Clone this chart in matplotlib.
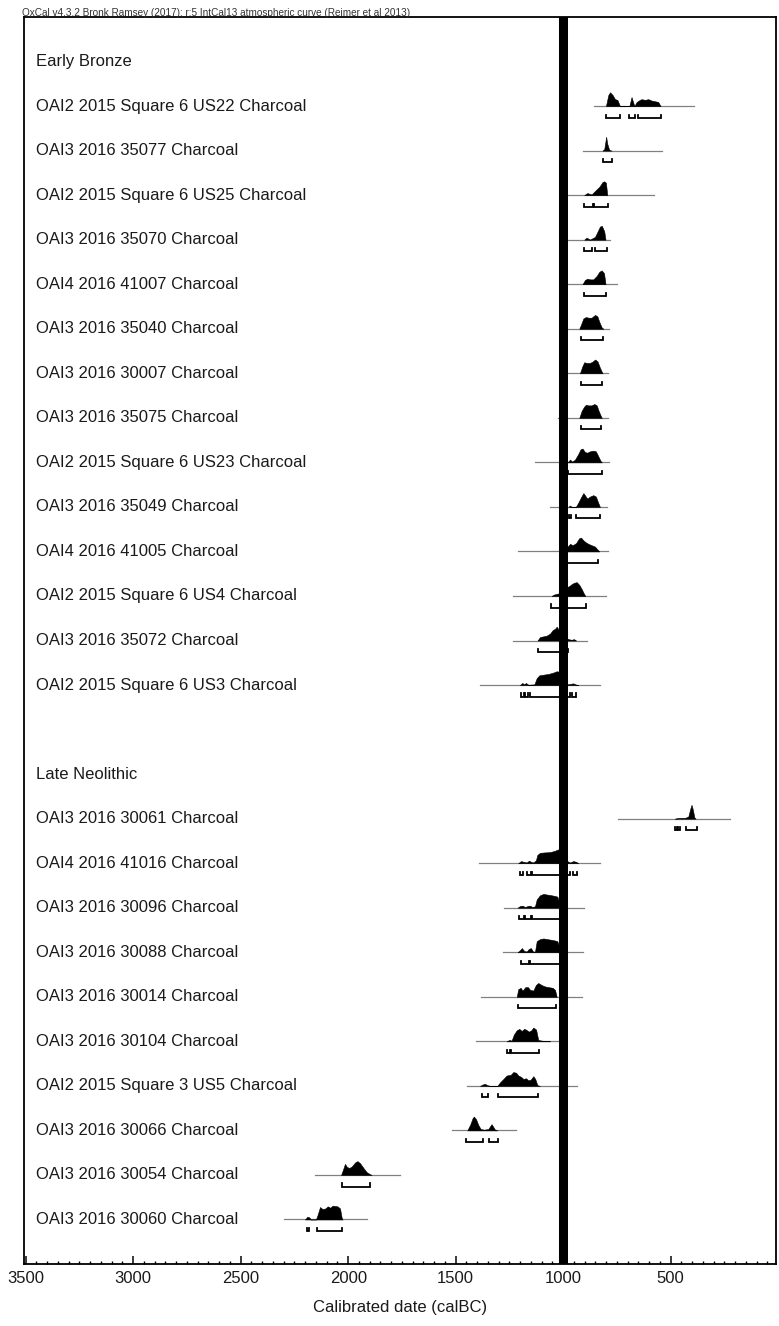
import numpy as np
import matplotlib
matplotlib.use('Agg')
import matplotlib.pyplot as plt
from matplotlib.ticker import MultipleLocator

plt.rcParams['font.family'] = ['Liberation Sans', 'DejaVu Sans']

header = 'OxCal v4.3.2 Bronk Ramsey (2017); r:5 IntCal13 atmospheric curve (Reimer et al 2013)'

# group headings: (row, text)
groups = [(0, 'Early Bronze'), (16, 'Late Neolithic')]

# sample rows
rows = [1, 2, 3, 4, 5, 6, 7, 8, 9, 10, 11, 12, 13, 14,
        17, 18, 19, 20, 21, 22, 23, 24, 25, 26]

labels = [
    'OAI2 2015 Square 6 US22 Charcoal',
    'OAI3 2016 35077 Charcoal',
    'OAI2 2015 Square 6 US25 Charcoal',
    'OAI3 2016 35070 Charcoal',
    'OAI4 2016 41007 Charcoal',
    'OAI3 2016 35040 Charcoal',
    'OAI3 2016 30007 Charcoal',
    'OAI3 2016 35075 Charcoal',
    'OAI2 2015 Square 6 US23 Charcoal',
    'OAI3 2016 35049 Charcoal',
    'OAI4 2016 41005 Charcoal',
    'OAI2 2015 Square 6 US4 Charcoal',
    'OAI3 2016 35072 Charcoal',
    'OAI2 2015 Square 6 US3 Charcoal',
    'OAI3 2016 30061 Charcoal',
    'OAI4 2016 41016 Charcoal',
    'OAI3 2016 30096 Charcoal',
    'OAI3 2016 30088 Charcoal',
    'OAI3 2016 30014 Charcoal',
    'OAI3 2016 30104 Charcoal',
    'OAI2 2015 Square 3 US5 Charcoal',
    'OAI3 2016 30066 Charcoal',
    'OAI3 2016 30054 Charcoal',
    'OAI3 2016 30060 Charcoal',
]

# extent of the grey base line (calBC)
line_ranges = [
    (855, 390), (910, 542), (990, 578), (990, 782), (990, 751),
    (990, 786), (990, 790), (1023, 790), (1131, 786), (1061, 795),
    (1209, 790), (1232, 801), (1232, 888), (1387, 829),
    (744, 224), (1390, 829), (1275, 903), (1282, 909), (1384, 914),
    (1405, 1020), (1449, 937), (1519, 1219), (2154, 1759), (2298, 1914),
]

# probability curves (year calBC, relative height)
curve_years = [
    [801, 790, 782, 770, 759, 748, 736, 692, 682, 669, 658, 643, 635, 620, 604, 589, 573, 558, 547],
    [817, 809, 804, 800, 795, 786, 775],
    [902, 888, 868, 852, 832, 817, 809, 801, 795],
    [902, 891, 876, 852, 841, 829, 820, 809, 803],
    [910, 899, 888, 875, 860, 844, 832, 821, 810, 803],
    [925, 917, 906, 894, 883, 868, 852, 841, 832, 821, 813],
    [922, 911, 902, 891, 875, 863, 851, 840, 829, 817],
    [925, 914, 903, 894, 883, 868, 855, 844, 835, 824, 820],
    [979, 968, 958, 945, 930, 919, 910, 899, 888, 875, 860, 848, 837, 826, 820],
    [976, 968, 961, 941, 930, 917, 906, 897, 888, 875, 860, 848, 837, 829],
    [992, 979, 968, 956, 940, 926, 917, 906, 894, 883, 868, 852, 841, 832],
    [1054, 1043, 1030, 1018, 999, 984, 973, 961, 950, 937, 925, 914, 903, 897],
    [1119, 1108, 1092, 1077, 1061, 1049, 1038, 1030, 1018, 999, 987, 976, 961, 950, 940],
    [1201, 1190, 1182, 1173, 1162, 1134, 1123, 1111, 1092, 1069, 1046, 1030, 1018, 1004, 992, 976, 961, 953, 940, 930],
    [480, 465, 434, 418, 409, 403, 396, 390, 384],
    [1209, 1196, 1185, 1170, 1159, 1150, 1139, 1127, 1120, 1108, 1085, 1061, 1038, 1023, 999, 984, 976, 968, 953, 940, 930],
    [1212, 1201, 1189, 1178, 1165, 1154, 1144, 1131, 1123, 1108, 1092, 1074, 1054, 1038, 1027, 1015, 1007],
    [1212, 1201, 1192, 1182, 1170, 1159, 1150, 1140, 1131, 1123, 1108, 1092, 1074, 1054, 1038, 1027, 1015, 1007],
    [1216, 1209, 1198, 1189, 1176, 1164, 1154, 1139, 1127, 1116, 1100, 1085, 1069, 1049, 1038, 1030],
    [1263, 1250, 1240, 1229, 1216, 1204, 1193, 1182, 1173, 1160, 1148, 1139, 1126, 1116, 1100, 1077, 1061],
    [1387, 1374, 1364, 1353, 1340, 1306, 1294, 1278, 1263, 1244, 1232, 1219, 1209, 1196, 1185, 1173, 1162, 1151, 1139, 1130, 1120, 1108],
    [1446, 1433, 1421, 1415, 1405, 1395, 1384, 1368, 1348, 1340, 1333, 1325, 1317, 1306],
    [2033, 2026, 2015, 2007, 1996, 1984, 1968, 1957, 1945, 1929, 1914, 1898, 1891],
    [2201, 2190, 2181, 2174, 2150, 2143, 2131, 2119, 2106, 2095, 2084, 2072, 2050, 2038, 2030, 2026],
]
curve_heights = [
    [0, 0.8, 1.0, 0.8, 0.5, 0.45, 0, 0, 0.65, 0, 0.3, 0.45, 0.5, 0.45, 0.5, 0.4, 0.35, 0.3, 0],
    [0, 0.1, 0.6, 1.0, 0.5, 0.05, 0],
    [0, 0.15, 0.05, 0.3, 0.6, 0.95, 1.0, 0.9, 0],
    [0, 0.15, 0, 0.2, 0.55, 0.95, 1.0, 0.6, 0],
    [0, 0.3, 0.4, 0.35, 0.35, 0.6, 0.9, 1.0, 0.8, 0],
    [0, 0.3, 0.75, 0.85, 0.8, 0.8, 1.0, 0.9, 0.5, 0.1, 0],
    [0, 0.5, 0.8, 0.75, 0.75, 0.85, 1.0, 0.85, 0.4, 0],
    [0, 0.5, 0.8, 0.95, 0.9, 0.9, 1.0, 0.9, 0.5, 0.1, 0],
    [0, 0.2, 0.05, 0.2, 0.6, 0.95, 1.0, 0.75, 0.7, 0.8, 0.85, 0.8, 0.45, 0.1, 0],
    [0, 0.1, 0, 0, 0.3, 0.7, 1.0, 0.8, 0.6, 0.75, 0.85, 0.75, 0.3, 0],
    [0, 0.35, 0.55, 0.45, 0.6, 0.95, 1.0, 0.8, 0.65, 0.55, 0.45, 0.35, 0.15, 0],
    [0, 0.1, 0.15, 0.2, 0.45, 0.65, 0.7, 0.85, 0.95, 1.0, 0.8, 0.5, 0.15, 0],
    [0, 0.25, 0.3, 0.35, 0.5, 0.75, 0.85, 1.0, 0.7, 0.55, 0.2, 0.1, 0.05, 0.1, 0],
    [0, 0.15, 0.05, 0.15, 0.02, 0.05, 0.5, 0.7, 0.75, 0.8, 0.9, 1.0, 0.95, 0.5, 0.1, 0.05, 0.1, 0.12, 0.03, 0],
    [0, 0.04, 0.05, 0.15, 0.7, 1.0, 0.6, 0.1, 0],
    [0, 0.15, 0.1, 0.05, 0.18, 0.1, 0.05, 0.2, 0.6, 0.75, 0.78, 0.8, 0.9, 1.0, 0.6, 0.2, 0.1, 0.05, 0.15, 0.1, 0],
    [0, 0.12, 0.15, 0.05, 0.12, 0.15, 0.05, 0.1, 0.6, 0.9, 1.0, 0.95, 0.9, 0.85, 0.8, 0.2, 0],
    [0, 0.15, 0.3, 0.1, 0.05, 0.25, 0.3, 0.05, 0.05, 0.8, 0.95, 1.0, 0.95, 0.9, 0.85, 0.8, 0.2, 0],
    [0, 0.55, 0.65, 0.45, 0.7, 0.7, 0.5, 0.45, 0.85, 1.0, 0.85, 0.75, 0.7, 0.65, 0.5, 0],
    [0, 0.1, 0.05, 0.5, 0.8, 0.9, 0.75, 0.9, 0.85, 0.7, 0.8, 1.0, 0.85, 0.1, 0.05, 0.02, 0],
    [0, 0.1, 0.15, 0.05, 0, 0, 0.25, 0.5, 0.75, 0.8, 1.0, 0.95, 0.75, 0.65, 0.5, 0.55, 0.4, 0.45, 0.7, 0.5, 0.05, 0],
    [0, 0.4, 0.9, 1.0, 0.8, 0.4, 0.1, 0.05, 0.1, 0.3, 0.45, 0.25, 0.05, 0],
    [0, 0.3, 0.8, 0.6, 0.5, 0.6, 0.9, 1.0, 0.85, 0.5, 0.2, 0.05, 0],
    [0, 0.2, 0.15, 0, 0, 0.3, 0.9, 0.75, 0.8, 0.95, 0.85, 1.0, 0.95, 0.8, 0.1, 0],
]

# 95.4% probability ranges
ranges_95 = [
    [(803, 736), (692, 666), (654, 547)],
    [(817, 775)],
    [(903, 860), (857, 790)],
    [(902, 865), (852, 798)],
    [(902, 803)],
    [(919, 817)],
    [(919, 820)],
    [(919, 824)],
    [(976, 821)],
    [(972, 964), (941, 829)],
    [(990, 840)],
    [(1058, 896)],
    [(1119, 976)],
    [(1198, 1183), (1177, 1163), (1155, 995), (981, 966), (957, 941)],
    [(480, 469), (468, 457), (429, 376)],
    [(1201, 1185), (1168, 1150), (1145, 1000), (985, 968), (955, 935)],
    [(1205, 1180), (1178, 1150), (1146, 1010)],
    [(1196, 1160), (1156, 1010)],
    [(1212, 1035)],
    [(1260, 1245), (1242, 1112)],
    [(1379, 1351), (1305, 1119)],
    [(1452, 1374), (1345, 1302)],
    [(2030, 1898)],
    [(2193, 2181), (2146, 2030)],
]

boundary_year = 1000

peak_h = 0.31      # peak height in row units
brk_off = 0.26     # bracket offset below base line
brk_tick = 0.07

fig = plt.figure(figsize=(7.79, 13.26), dpi=100)
ax = fig.add_axes([24 / 779, 1 - 1264 / 1326, 752 / 779, 1247 / 1326])

for i, r in enumerate(rows):
    a, b = line_ranges[i]
    ax.plot([a, b], [r, r], color='#808080', lw=0.9, zorder=2)
    yrs = np.array(curve_years[i])
    hts = np.array(curve_heights[i])
    ax.fill_between(yrs, r, r - hts * peak_h, color='black', lw=0.4, zorder=3)
    for s, e in ranges_95[i]:
        yb = r + brk_off
        ax.plot([s, s, e, e], [yb - brk_tick, yb, yb, yb - brk_tick],
                color='black', lw=1.3, solid_joinstyle='miter', zorder=3)
    ax.text(0.016, r, labels[i], transform=ax.get_yaxis_transform(),
            ha='left', va='center', fontsize=12, color='#1a1a1a')

for r, g in groups:
    ax.text(0.016, r, g, transform=ax.get_yaxis_transform(),
            ha='left', va='center', fontsize=12, color='#1a1a1a')

ax.axvline(boundary_year, color='black', lw=6.5, zorder=5)

ax.set_xlim(3508, 10)
ax.set_ylim(27, -1)
ax.set_yticks([])
ax.xaxis.set_major_locator(MultipleLocator(500))
ax.xaxis.set_minor_locator(MultipleLocator(50))
ax.tick_params(axis='x', which='major', direction='in', length=6, width=1.2,
               labelsize=12, pad=5, colors='#1a1a1a')
ax.tick_params(axis='x', which='minor', direction='in', length=2.5, width=1)
for sp in ax.spines.values():
    sp.set_linewidth(1.3)
ax.set_xlabel('Calibrated date (calBC)', fontsize=12, labelpad=10, color='#1a1a1a')

fig.text(22 / 779, 1 - 16 / 1326, header, fontsize=7.2, ha='left', va='baseline',
         color='#333333')

fig.savefig('out.png', dpi=100)
